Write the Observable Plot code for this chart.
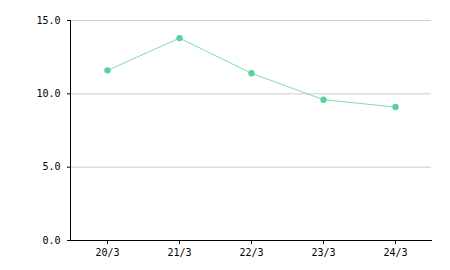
<!DOCTYPE html>
<html>
<head>
<meta charset="utf-8">
<script src="https://cdn.jsdelivr.net/npm/d3@7"></script>
<script src="https://cdn.jsdelivr.net/npm/@observablehq/plot@0.6"></script>
<style>
  html, body { margin: 0; padding: 0; background: #fff; }
</style>
</head>
<body>
<div id="chart"></div>
<script>
const categories = ["20/3", "21/3", "22/3", "23/3", "24/3"];
const values = [11.6, 13.8, 11.4, 9.6, 9.1];
const yTicks = [0, 5, 10, 15];

const data = categories.map((c, i) => ({ cat: c, value: values[i] }));

const chart = Plot.plot({
  width: 450,
  height: 270,
  marginLeft: 70,
  marginRight: 19,
  marginTop: 20,
  marginBottom: 30,
  style: { fontFamily: "DejaVu Sans Mono", fontSize: "10px", color: "#000", background: "#fff" },
  x: { type: "point", domain: categories, padding: 0.5, label: null },
  y: { domain: [0, 15], label: null },
  marks: [
    Plot.gridY(yTicks, { stroke: "#cccccc", strokeOpacity: 1 }),
    Plot.axisY(yTicks, { tickSize: 3, tickPadding: 7, tickFormat: d3.format(".1f"), label: null }),
    Plot.axisX({ tickSize: 4, tickPadding: 4, label: null }),
    Plot.frame({ anchor: "left", stroke: "#000" }),
    Plot.frame({ anchor: "bottom", stroke: "#000" }),
    Plot.line(data, { x: "cat", y: "value", stroke: "#80dbb3", strokeWidth: 1 }),
    Plot.dot(data, { x: "cat", y: "value", r: 3.2, fill: "#5ccf9a", stroke: "none" })
  ]
});
document.getElementById("chart").appendChild(chart);
</script>
</body>
</html>
